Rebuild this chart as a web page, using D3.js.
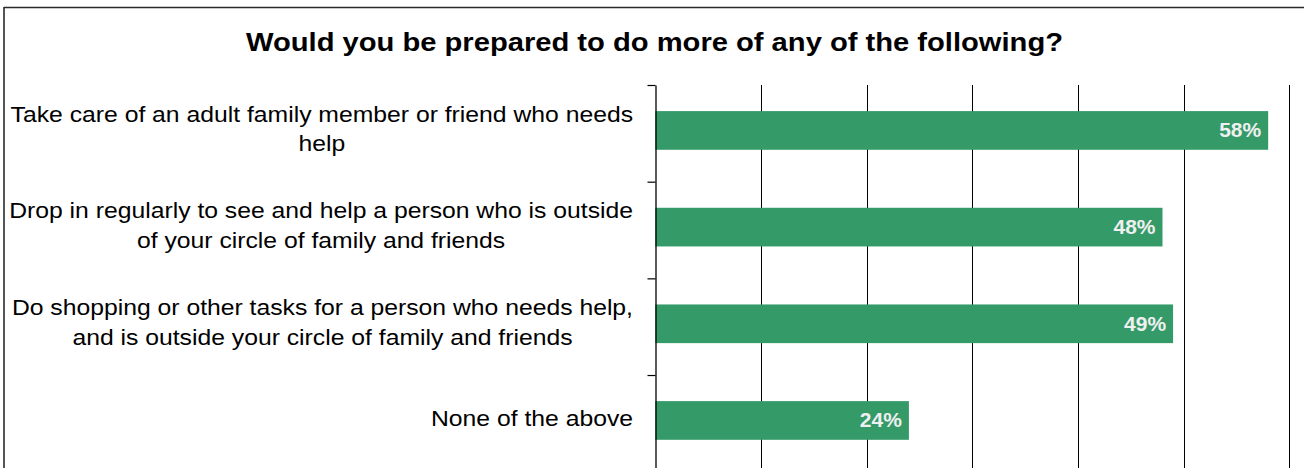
<!DOCTYPE html>
<html>
<head>
<meta charset="utf-8">
<script src="https://cdn.jsdelivr.net/npm/d3@7"></script>
<style>
  html, body { margin: 0; padding: 0; background: #fff; }
  svg { display: block; }
</style>
</head>
<body>
<svg id="chart" width="1304" height="468"></svg>
<script>
// Survey answers, one bar per option (share of respondents, %)
const title = "Would you be prepared to do more of any of the following?";
const categories = [
  "Take care of an adult family member or friend who needs help",
  "Drop in regularly to see and help a person who is outside of your circle of family and friends",
  "Do shopping or other tasks for a person who needs help, and is outside your circle of family and friends",
  "None of the above"
];
const categoryLines = [
  ["Take care of an adult family member or friend who needs", "help"],
  ["Drop in regularly to see and help a person who is outside", "of your circle of family and friends"],
  ["Do shopping or other tasks for a person who needs help,", "and is outside your circle of family and friends"],
  ["None of the above"]
];
const values = [58, 48, 49, 24];
const valueLabels = ["58%", "48%", "49%", "24%"];
const gridValues = [10, 20, 30, 40, 50, 60];

const svg = d3.select("#chart");
const W = 1304, H = 468;
const plot = { left: 655.3, right: 1289.3, top: 85, bottom: 471.7 };
const barColor = "#349a68";
const font = "'Liberation Sans', Arial, sans-serif";

// Frame around the chart area
svg.append("line").attr("x1", 4).attr("x2", W + 5).attr("y1", 7.5).attr("y2", 7.5)
  .attr("stroke", "#2a2a2a").attr("stroke-width", 1.6);
svg.append("line").attr("x1", 4).attr("x2", 4).attr("y1", 7).attr("y2", H + 5)
  .attr("stroke", "#2a2a2a").attr("stroke-width", 1.6);

// Title
svg.append("text")
  .attr("x", 246).attr("y", 50.5)
  .attr("font-family", font).attr("font-weight", "bold").attr("font-size", 25)
  .attr("fill", "#000")
  .attr("textLength", 817).attr("lengthAdjust", "spacingAndGlyphs")
  .text(title);

// Scales
const x = d3.scaleLinear().domain([0, 60]).range([plot.left, plot.right]);
const y = d3.scaleBand().domain(categories).range([plot.top, plot.bottom])
  .paddingInner(0.6).paddingOuter(0.3).align(0.45);
const yIdx = d3.scaleLinear().domain([0, categories.length]).range([plot.top, plot.bottom]);

// Vertical gridlines
svg.append("g")
  .selectAll("line")
  .data(gridValues)
  .join("line")
  .attr("x1", d => Math.round(x(d)) + 0.5).attr("x2", d => Math.round(x(d)) + 0.5)
  .attr("y1", plot.top).attr("y2", plot.bottom)
  .attr("stroke", "#000").attr("stroke-width", 1);

// Bars
svg.append("g")
  .selectAll("rect")
  .data(values)
  .join("rect")
  .attr("x", x(0))
  .attr("y", (d, i) => y(categories[i]))
  .attr("width", d => x(d) - x(0))
  .attr("height", y.bandwidth())
  .attr("fill", barColor);

// Category axis with ticks at band boundaries
const axis = svg.append("g")
  .attr("transform", `translate(${Math.round(plot.left) + 0.5},0)`)
  .call(d3.axisLeft(yIdx).tickValues(d3.range(categories.length + 1))
    .tickSize(8).tickSizeOuter(0).tickFormat(""));
axis.select(".domain").attr("stroke", "#000").attr("stroke-width", 1.3);
axis.selectAll(".tick line").attr("stroke", "#000").attr("stroke-width", 1.2);

// Value labels inside bar ends
svg.append("g")
  .selectAll("text")
  .data(values)
  .join("text")
  .attr("x", d => x(d) - 7)
  .attr("y", (d, i) => y(categories[i]) + y.bandwidth() / 2 + 7)
  .attr("text-anchor", "end")
  .attr("font-family", font).attr("font-weight", "bold").attr("font-size", 21)
  .attr("fill", "#f0f0f0")
  .text((d, i) => valueLabels[i]);

// Category labels: centred lines, block right-aligned next to the axis
const labelRight = 633;
const fontSize = 22.5;
const lineGap = 29.5;
const widestLine = 623;
const labels = svg.append("g");

// horizontal stretch so the widest label line spans the label column
const probe = labels.append("text").attr("font-family", font).attr("font-size", fontSize)
  .text(categoryLines[0][0]);
const stretch = widestLine / probe.node().getComputedTextLength();
probe.remove();

categoryLines.forEach((lines, i) => {
  const cy = y(categories[i]) + y.bandwidth() / 2;
  const g = labels.append("g")
    .attr("transform", `translate(${labelRight},0) scale(${stretch},1)`);
  const texts = g.selectAll("text")
    .data(lines)
    .join("text")
    .attr("font-family", font).attr("font-size", fontSize).attr("fill", "#000")
    .attr("text-anchor", "middle")
    .attr("y", (d, j) => cy + 6 + (j - (lines.length - 1) / 2) * lineGap)
    .text(d => d);
  let maxW = 0;
  texts.each(function () { maxW = Math.max(maxW, this.getComputedTextLength()); });
  texts.attr("x", -maxW / 2);
});
</script>
</body>
</html>
